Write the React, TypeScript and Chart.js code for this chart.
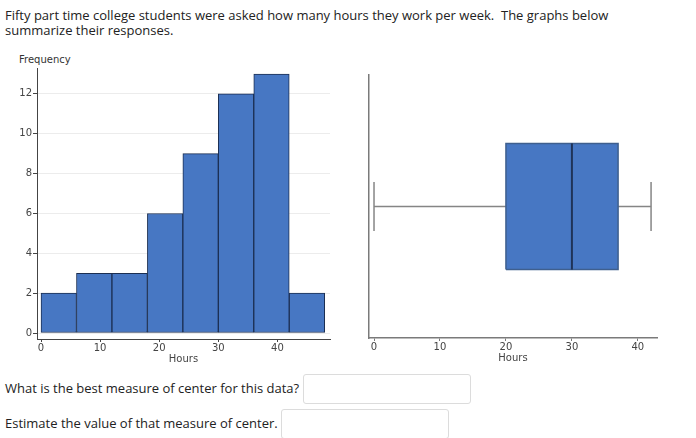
import React, { useEffect, useRef } from 'react';
import { Chart, registerables } from 'chart.js';

Chart.register(...registerables);

// ---- Histogram data ----
const BIN_STARTS = [0, 6, 12, 18, 24, 30, 36, 42];
const BIN_WIDTH = 6;
const FREQUENCIES = [2, 3, 3, 6, 9, 12, 13, 2];
const HIST_X_TICKS = [0, 10, 20, 30, 40];
const HIST_Y_TICKS = [0, 2, 4, 6, 8, 10, 12];

// ---- Box plot data (five-number summary) ----
const BOX_MIN = 0;
const BOX_Q1 = 20;
const BOX_MEDIAN = 30;
const BOX_Q3 = 37;
const BOX_MAX = 42;
const BOX_X_TICKS = [0, 10, 20, 30, 40];

// ---- Texts ----
const INTRO = 'Fifty part time college students were asked how many hours they work per week.\u00a0 The graphs below summarize their responses.';
const Q1_TEXT = 'What is the best measure of center for this data?';
const Q2_TEXT = 'Estimate the value of that measure of center.';
const Y_LABEL = 'Frequency';
const X_LABEL = 'Hours';

// ---- Styles ----
const BAR_FILL = '#4777c3';
const BAR_EDGE = '#1c2f52';
const AXIS_DARK = '#444444';
const AXIS_GREY = '#7a7a7a';
const WHISKER = '#858585';
const TICK_FONT = { family: 'DejaVu Sans', size: 10 };
// vertical layout of the box glyph on its 0..10 helper axis
const BOX_LO = 2.6;
const BOX_HI = 7.4;
const BOX_MID = 5.0;
const CAP_LO = 4.07;
const CAP_HI = 5.93;

function Histogram() {
  const ref = useRef<HTMLCanvasElement | null>(null);
  useEffect(() => {
    if (!ref.current) return;
    const chart = new Chart(ref.current, {
      type: 'bar',
      data: {
        datasets: [
          {
            data: BIN_STARTS.map((s, i) => ({ x: s + BIN_WIDTH / 2, y: FREQUENCIES[i] })),
            backgroundColor: BAR_FILL,
            borderColor: BAR_EDGE,
            borderWidth: 1,
            borderSkipped: false,
            barPercentage: 1,
            categoryPercentage: 1,
          } as any,
        ],
      },
      options: {
        animation: false,
        responsive: false,
        events: [],
        layout: { padding: { top: 28, right: 15, left: 0, bottom: 0 } },
        plugins: { legend: { display: false }, tooltip: { enabled: false } },
        scales: {
          x: {
            type: 'linear',
            offset: false,
            min: -0.68,
            max: 48.9,
            afterBuildTicks: (s: any) => {
              s.ticks = HIST_X_TICKS.map((v) => ({ value: v }));
            },
            afterFit: (s: any) => {
              s.height = 31;
            },
            grid: { offset: false, drawOnChartArea: false, tickLength: 3, tickColor: AXIS_DARK },
            border: { color: AXIS_DARK, width: 1 },
            ticks: { font: TICK_FONT, color: '#444', padding: 0, maxRotation: 0, autoSkip: false },
            title: { display: true, text: X_LABEL, font: TICK_FONT, color: '#444', padding: { top: 0, bottom: 5 } },
          },
          y: {
            type: 'linear',
            min: -0.3,
            max: 13.3,
            afterBuildTicks: (s: any) => {
              s.ticks = HIST_Y_TICKS.map((v) => ({ value: v }));
            },
            afterFit: (s: any) => {
              s.width = 37;
            },
            grid: { color: '#ececec', tickLength: 4, tickColor: AXIS_DARK },
            border: { color: AXIS_DARK, width: 1 },
            ticks: { font: TICK_FONT, color: '#444', padding: 1 },
          },
        },
      } as any,
    });
    return () => chart.destroy();
  }, []);
  return (
    <canvas
      ref={ref}
      width={345}
      height={330}
      style={{ position: 'absolute', left: 0, top: 40, width: 345, height: 330 }}
    />
  );
}

function BoxPlot() {
  const ref = useRef<HTMLCanvasElement | null>(null);
  useEffect(() => {
    if (!ref.current) return;
    const line = (pts: { x: number; y: number }[], color: string, width: number, order: number, extra: any = {}) => ({
      data: pts,
      showLine: true,
      borderColor: color,
      borderWidth: width,
      pointRadius: 0,
      fill: false,
      order,
      ...extra,
    });
    const chart = new Chart(ref.current, {
      type: 'scatter',
      data: {
        datasets: [
          line([{ x: BOX_MIN, y: BOX_MID }, { x: BOX_Q1, y: BOX_MID }], WHISKER, 1.5, 5),
          line([{ x: BOX_Q3, y: BOX_MID }, { x: BOX_MAX, y: BOX_MID }], WHISKER, 1.5, 5),
          line([{ x: BOX_MIN, y: CAP_LO }, { x: BOX_MIN, y: CAP_HI }], WHISKER, 1.5, 5),
          line([{ x: BOX_MAX, y: CAP_LO }, { x: BOX_MAX, y: CAP_HI }], WHISKER, 1.5, 5),
          line(
            [
              { x: BOX_Q1, y: BOX_LO },
              { x: BOX_Q3, y: BOX_LO },
              { x: BOX_Q3, y: BOX_HI },
              { x: BOX_Q1, y: BOX_HI },
              { x: BOX_Q1, y: BOX_LO },
            ],
            '#3f5f8e',
            1.5,
            2,
            { fill: 'shape', backgroundColor: BAR_FILL }
          ),
          line([{ x: BOX_MEDIAN, y: BOX_LO }, { x: BOX_MEDIAN, y: BOX_HI }], '#1f3358', 2, 1),
        ] as any,
      },
      options: {
        animation: false,
        responsive: false,
        events: [],
        layout: { padding: { top: 15, right: 39, left: 0, bottom: 0 } },
        plugins: { legend: { display: false }, tooltip: { enabled: false } },
        scales: {
          x: {
            type: 'linear',
            min: -0.76,
            max: 42.9,
            afterBuildTicks: (s: any) => {
              s.ticks = BOX_X_TICKS.map((v) => ({ value: v }));
            },
            afterFit: (s: any) => {
              s.height = 32;
            },
            grid: { drawOnChartArea: false, tickLength: 3, tickColor: AXIS_GREY },
            border: { color: AXIS_GREY, width: 1.5 },
            ticks: { font: TICK_FONT, color: '#444', padding: 0, maxRotation: 0, autoSkip: false },
            title: { display: true, text: X_LABEL, font: TICK_FONT, color: '#444', padding: { top: 0, bottom: 6 } },
          },
          y: {
            type: 'linear',
            min: 0,
            max: 10,
            afterFit: (s: any) => {
              s.width = 19;
            },
            grid: { display: false },
            border: { display: true, color: AXIS_GREY, width: 1.5 },
            ticks: { display: false },
          },
        },
      } as any,
    });
    return () => chart.destroy();
  }, []);
  return (
    <canvas
      ref={ref}
      width={346}
      height={310}
      style={{ position: 'absolute', left: 350, top: 60, width: 346, height: 310 }}
    />
  );
}

export default function App() {
  const textStyle: React.CSSProperties = {
    position: 'absolute',
    fontFamily: '"Open Sans", sans-serif',
    fontSize: 13,
    color: '#222',
    whiteSpace: 'nowrap',
  };
  const boxStyle: React.CSSProperties = {
    position: 'absolute',
    border: '1px solid #dcdcdc',
    borderRadius: 3,
    background: '#fff',
    boxSizing: 'border-box',
  };
  return (
    <div
      style={{
        position: 'absolute',
        left: 0,
        top: 0,
        width: 696,
        height: 438,
        background: '#fff',
        overflow: 'hidden',
      }}
    >
      <div
        style={{
          ...textStyle,
          left: 5,
          top: 8,
          width: 620,
          whiteSpace: 'normal',
          lineHeight: '15px',
        }}
      >
        {INTRO}
      </div>
      <div
        style={{
          position: 'absolute',
          left: 19,
          top: 54,
          fontFamily: '"DejaVu Sans", sans-serif',
          fontSize: 10,
          color: '#333',
          whiteSpace: 'nowrap',
        }}
      >
        {Y_LABEL}
      </div>
      <Histogram />
      <BoxPlot />
      <div style={{ ...textStyle, left: 5, top: 379, lineHeight: '18px' }}>{Q1_TEXT}</div>
      <div style={{ ...boxStyle, left: 303, top: 374, width: 168, height: 30 }} />
      <div style={{ ...textStyle, left: 5, top: 414, lineHeight: '18px' }}>{Q2_TEXT}</div>
      <div style={{ ...boxStyle, left: 281, top: 409, width: 168, height: 30 }} />
    </div>
  );
}
